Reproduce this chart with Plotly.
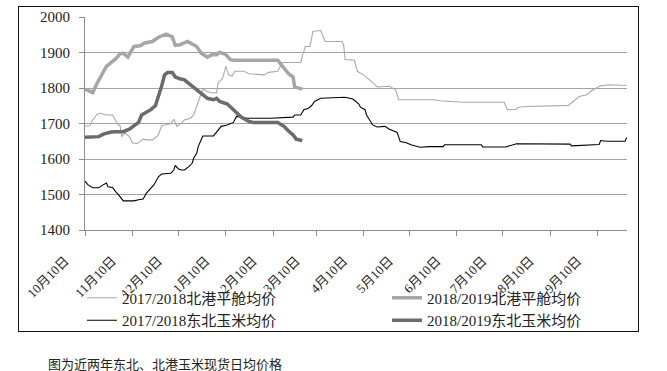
import pandas as pd
import plotly.graph_objects as go

# ---------------- data ----------------
series_names = ["2017/2018北港平舱均价", "2018/2019北港平舱均价",
                "2017/2018东北玉米均价", "2018/2019东北玉米均价"]

# 2017/2018 北港平舱均价
port_1718_dates = ["2017-10-10", "2017-10-13", "2017-10-15", "2017-10-18", "2017-10-20", "2017-10-24",
                   "2017-10-28", "2017-10-31", "2017-11-02", "2017-11-03", "2017-11-05", "2017-11-08",
                   "2017-11-10", "2017-11-13", "2017-11-15", "2017-11-17", "2017-11-19", "2017-11-23",
                   "2017-11-25", "2017-11-27", "2017-11-29", "2017-12-01", "2017-12-05", "2017-12-07",
                   "2017-12-09", "2017-12-12", "2017-12-14", "2017-12-18", "2017-12-20", "2017-12-22",
                   "2017-12-24", "2017-12-26", "2017-12-29", "2018-01-01", "2018-01-04", "2018-01-05",
                   "2018-01-08", "2018-01-10", "2018-01-12", "2018-01-14", "2018-01-16", "2018-01-22",
                   "2018-01-25", "2018-02-04", "2018-02-07", "2018-02-13", "2018-02-16", "2018-02-28",
                   "2018-03-01", "2018-03-03", "2018-03-06", "2018-03-08", "2018-03-13", "2018-03-16",
                   "2018-03-27", "2018-03-28", "2018-03-29", "2018-04-04", "2018-04-06", "2018-04-10",
                   "2018-04-14", "2018-04-19", "2018-04-27", "2018-05-01", "2018-05-03", "2018-05-26",
                   "2018-05-30", "2018-06-14", "2018-07-11", "2018-07-13", "2018-07-19", "2018-07-20",
                   "2018-07-26", "2018-08-22", "2018-08-25", "2018-08-29", "2018-09-03", "2018-09-07",
                   "2018-09-12", "2018-09-17", "2018-09-29"]
port_1718_vals = [1693, 1693, 1710, 1726, 1729, 1724,
                  1724, 1701, 1692, 1663, 1673, 1663,
                  1646, 1643, 1649, 1656, 1654, 1654,
                  1660, 1668, 1693, 1696, 1699, 1712,
                  1692, 1701, 1710, 1715, 1724, 1748,
                  1776, 1797, 1790, 1786, 1787, 1814,
                  1828, 1861, 1837, 1833, 1847, 1847,
                  1840, 1837, 1844, 1847, 1872, 1872,
                  1889, 1917, 1917, 1960, 1962, 1931,
                  1931, 1922, 1880, 1878, 1847, 1837,
                  1823, 1803, 1805, 1795, 1767, 1767,
                  1764, 1760, 1760, 1739, 1740, 1746,
                  1748, 1751, 1762, 1776, 1781, 1795,
                  1806, 1809, 1807]

# 2018/2019 北港平舱均价
port_1819_dates = ["2018-10-10", "2018-10-15", "2018-10-18", "2018-10-21", "2018-10-24", "2018-10-28",
                   "2018-10-30", "2018-11-02", "2018-11-04", "2018-11-07", "2018-11-11", "2018-11-15",
                   "2018-11-18", "2018-11-23", "2018-11-27", "2018-12-02", "2018-12-06", "2018-12-08",
                   "2018-12-11", "2018-12-16", "2018-12-19", "2018-12-22", "2018-12-25", "2018-12-29",
                   "2019-01-01", "2019-01-04", "2019-01-06", "2019-01-10", "2019-01-13", "2019-01-15",
                   "2019-02-13", "2019-02-17", "2019-02-20", "2019-02-23", "2019-02-24", "2019-03-01"]
port_1819_vals = [1797, 1787, 1814, 1837, 1861, 1875,
                  1882, 1897, 1898, 1887, 1917, 1919,
                  1927, 1931, 1943, 1952, 1944, 1920,
                  1922, 1931, 1924, 1917, 1898, 1887,
                  1894, 1894, 1901, 1894, 1880, 1878,
                  1878, 1856, 1840, 1831, 1803, 1797]

# 2017/2018 东北玉米均价
ne_1718_dates = ["2017-10-10", "2017-10-12", "2017-10-15", "2017-10-19", "2017-10-21", "2017-10-24",
                 "2017-10-25", "2017-10-28", "2017-10-30", "2017-11-01", "2017-11-04", "2017-11-11",
                 "2017-11-14", "2017-11-17", "2017-11-19", "2017-11-22", "2017-11-24", "2017-11-27",
                 "2017-11-29", "2017-12-05", "2017-12-07", "2017-12-08", "2017-12-10", "2017-12-12",
                 "2017-12-14", "2017-12-17", "2017-12-19", "2017-12-20", "2017-12-22", "2017-12-23",
                 "2017-12-24", "2017-12-26", "2018-01-02", "2018-01-04", "2018-01-07", "2018-01-11",
                 "2018-01-13", "2018-01-15", "2018-01-17", "2018-01-19", "2018-01-24", "2018-02-08",
                 "2018-02-23", "2018-02-24", "2018-02-28", "2018-03-02", "2018-03-05", "2018-03-07",
                 "2018-03-09", "2018-03-13", "2018-03-29", "2018-04-03", "2018-04-07", "2018-04-08",
                 "2018-04-11", "2018-04-12", "2018-04-14", "2018-04-16", "2018-04-19", "2018-04-24",
                 "2018-04-27", "2018-05-02", "2018-05-04", "2018-05-08", "2018-05-11", "2018-05-17",
                 "2018-05-23", "2018-06-01", "2018-06-02", "2018-06-26", "2018-06-27", "2018-07-12",
                 "2018-07-19", "2018-08-10", "2018-08-23", "2018-08-24", "2018-09-03", "2018-09-11",
                 "2018-09-12", "2018-09-16", "2018-09-28", "2018-09-29"]
ne_1718_vals = [1538, 1527, 1519, 1519, 1525, 1532,
                1522, 1520, 1508, 1499, 1482, 1482,
                1485, 1487, 1503, 1518, 1527, 1550,
                1558, 1560, 1569, 1582, 1572, 1569,
                1569, 1579, 1588, 1602, 1616, 1635,
                1646, 1665, 1665, 1677, 1692, 1696,
                1699, 1703, 1720, 1718, 1715, 1715,
                1718, 1724, 1724, 1739, 1743, 1750,
                1762, 1771, 1774, 1769, 1755, 1746,
                1739, 1724, 1710, 1696, 1690, 1692,
                1684, 1675, 1649, 1646, 1640, 1633,
                1635, 1635, 1640, 1640, 1634, 1634,
                1643, 1642, 1642, 1637, 1639, 1641,
                1652, 1650, 1650, 1661]

# 2018/2019 东北玉米均价
ne_1819_dates = ["2018-10-10", "2018-10-15", "2018-10-19", "2018-10-22", "2018-10-27", "2018-10-30",
                 "2018-11-04", "2018-11-08", "2018-11-11", "2018-11-14", "2018-11-16", "2018-11-19",
                 "2018-11-22", "2018-11-25", "2018-11-27", "2018-11-29", "2018-12-01", "2018-12-03",
                 "2018-12-06", "2018-12-08", "2018-12-11", "2018-12-14", "2018-12-18", "2018-12-22",
                 "2018-12-25", "2018-12-29", "2019-01-02", "2019-01-04", "2019-01-06", "2019-01-11",
                 "2019-01-14", "2019-01-17", "2019-01-20", "2019-01-25", "2019-01-28", "2019-02-13",
                 "2019-02-17", "2019-02-20", "2019-02-23", "2019-02-25", "2019-03-01"]
ne_1819_vals = [1661, 1661, 1663, 1670, 1676, 1677,
                1677, 1684, 1693, 1703, 1724, 1731,
                1739, 1750, 1776, 1804, 1837, 1844,
                1844, 1831, 1826, 1823, 1809, 1795,
                1783, 1771, 1767, 1771, 1762, 1755,
                1743, 1732, 1718, 1706, 1703, 1703,
                1692, 1679, 1668, 1656, 1652]

tick_dates = ["2017-10-10", "2017-11-10", "2017-12-10", "2018-01-10", "2018-02-10", "2018-03-10",
              "2018-04-10", "2018-05-10", "2018-06-10", "2018-07-10", "2018-08-10", "2018-09-10"]
tick_labels = ["10月10日", "11月10日", "12月10日", "1月10日", "2月10日", "3月10日",
               "4月10日", "5月10日", "6月10日", "7月10日", "8月10日", "9月10日"]
caption = "图为近两年东北、北港玉米现货日均价格"

# 2018/2019 season overlaid on the same month-day axis
def on_axis(dates, shift_years=0):
    return pd.to_datetime(dates) - pd.DateOffset(years=shift_years)

# ---------------- figure ----------------
W, H = 667, 371
# the paper area is the framed box (px 19..638 x 7..331)
FX0, FX1, FY0, FY1 = 19, 638, 7, 331
fw, fh = FX1 - FX0, FY1 - FY0

def px_x(x):
    return (x - FX0) / fw

def px_y(y):
    return (FY1 - y) / fh

# inner plot area in pixels
PX0, PX1, PY0, PY1 = 85, 627, 17, 230

FONT = "Liberation Serif, 'Noto Sans CJK SC', serif"

fig = go.Figure()
fig.add_trace(go.Scatter(x=on_axis(port_1718_dates), y=port_1718_vals, mode="lines",
                         name=series_names[0], line=dict(color="#a9a9a9", width=1.1),
                         legend="legend"))
fig.add_trace(go.Scatter(x=on_axis(ne_1718_dates), y=ne_1718_vals, mode="lines",
                         name=series_names[2], line=dict(color="#000000", width=1.1),
                         legend="legend"))
fig.add_trace(go.Scatter(x=on_axis(port_1819_dates, 1), y=port_1819_vals, mode="lines",
                         name=series_names[1], line=dict(color="#a6a6a6", width=3.5),
                         legend="legend2"))
fig.add_trace(go.Scatter(x=on_axis(ne_1819_dates, 1), y=ne_1819_vals, mode="lines",
                         name=series_names[3], line=dict(color="#6b6b6b", width=3.5),
                         legend="legend2"))
# empty helper trace carrying the frame axes
fig.add_trace(go.Scatter(x=[None], y=[None], xaxis="x2", yaxis="y2", mode="lines",
                         showlegend=False, hoverinfo="skip"))

legend_common = dict(orientation="v", xanchor="left", yanchor="top",
                     font=dict(family=FONT, size=15, color="#222"),
                     bgcolor="rgba(0,0,0,0)", borderwidth=0, traceorder="normal")

frame_axis = dict(domain=[0, 1], range=[0, 1], showline=True, mirror=True,
                  linecolor="#111", linewidth=1.2, showgrid=False, zeroline=False,
                  showticklabels=False, ticks="", fixedrange=True)

fig.update_layout(
    width=W, height=H,
    margin=dict(l=FX0, r=W - FX1, t=FY0, b=H - FY1, autoexpand=False),
    paper_bgcolor="white", plot_bgcolor="rgba(0,0,0,0)",
    font=dict(family=FONT, size=14, color="#222"),
    showlegend=True,
    legend=dict(x=px_x(82), y=px_y(281.5), **legend_common),
    legend2=dict(x=px_x(387), y=px_y(281.5), **legend_common),
    xaxis=dict(type="date", range=["2017-10-10", "2018-09-29 05:00"],
               domain=[px_x(PX0), px_x(PX1)], anchor="y",
               tickvals=pd.to_datetime(tick_dates), ticktext=tick_labels, tickangle=-45,
               ticklabelshift=-20, ticklabelstandoff=12,
               showgrid=False, showline=True, linecolor="#8c8c8c", linewidth=1,
               ticks="outside", ticklen=5, tickcolor="#8c8c8c", automargin=False,
               tickfont=dict(family=FONT, size=13, color="#222"), zeroline=False),
    yaxis=dict(range=[1400, 2000], dtick=100, tick0=1400,
               domain=[px_y(PY1), px_y(PY0)], anchor="x",
               showgrid=True, gridcolor="#a3a3a3", gridwidth=1,
               showline=True, linecolor="#8c8c8c", linewidth=1,
               ticks="outside", ticklen=5, tickcolor="#8c8c8c", ticklabelstandoff=6,
               automargin=False,
               tickfont=dict(family=FONT, size=15, color="#222"), zeroline=False),
    xaxis2=dict(anchor="y2", **frame_axis),
    yaxis2=dict(anchor="x2", **frame_axis),
    annotations=[
        dict(text=caption, xref="paper", yref="paper",
             x=px_x(46), y=px_y(363), xanchor="left", yanchor="middle",
             showarrow=False,
             font=dict(family="'Noto Sans CJK SC', sans-serif", size=13, color="#222")),
    ],
)

fig.write_html("out.html", config={"displayModeBar": False},
               post_script="document.body.style.margin='0';")
